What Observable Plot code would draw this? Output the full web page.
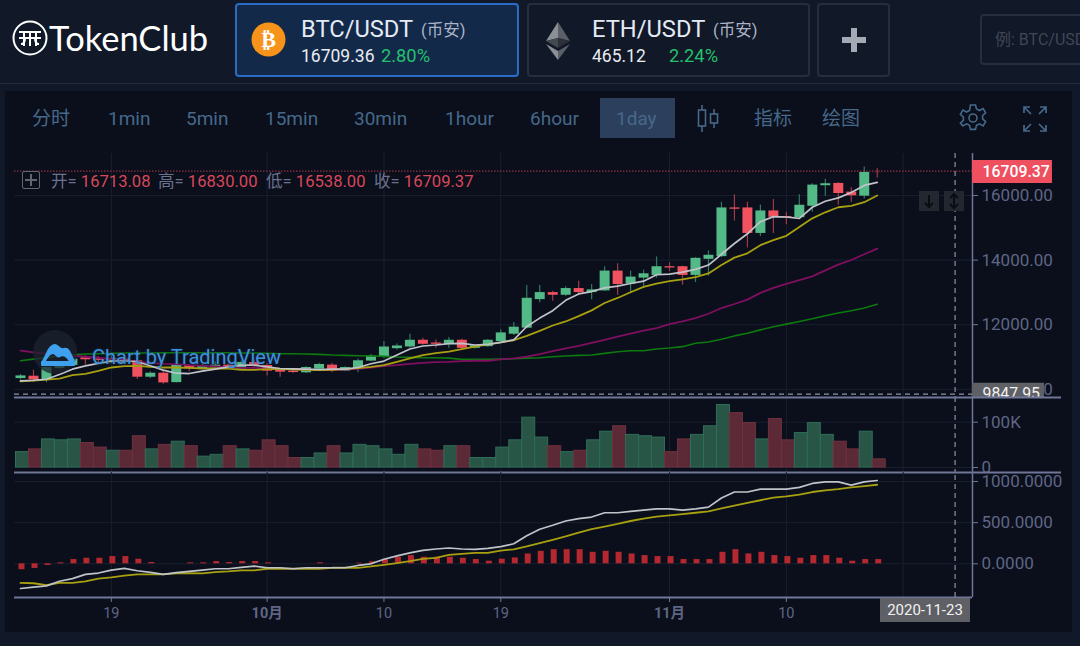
<!DOCTYPE html>
<html lang="zh">
<head>
<meta charset="utf-8">
<script src="https://cdn.jsdelivr.net/npm/d3@7"></script>
<script src="https://cdn.jsdelivr.net/npm/@observablehq/plot@0.6"></script>
<style>
html,body{margin:0;padding:0;width:1080px;height:646px;overflow:hidden;background:#111827;font-family:Roboto,"Noto Sans CJK SC",sans-serif}
.a{position:absolute;white-space:nowrap}
.box{position:absolute;box-sizing:border-box;border-radius:4px}
.tool{position:absolute;top:107px;font-size:19px;line-height:24px;color:#46688a}
.lg{position:absolute;top:172px;font-size:16.6px;line-height:20px;color:#6a7290;white-space:nowrap}
.lg b{font-weight:400;color:#d8475a}
svg.plot{position:absolute;left:0}
</style>
</head>
<body>
<div id="root"></div>
<script>
const firstDay = new Date(Date.UTC(2020, 8, 12));
const opens  = [10332,10405,10290,10644,10738,10977,10956,10873,10935,10883,10374,10498,10207,10738,10634,10665,10748,10623,10831,10738,10592,10561,10509,10623,10748,10561,10634,10873,10987,11258,11310,11518,11434,11393,11518,11268,11320,11476,11705,11892,12776,12994,12911,13119,12994,13046,13660,13265,13442,13525,13795,13795,13525,14024,14107,15615,15615,14825,15522,15345,15314,15667,16302,16374,16104,15979,16713.08];
const closes = [10415,10290,10675,10769,10935,10914,10894,10956,10873,10374,10498,10197,10738,10634,10738,10748,10644,10831,10727,10561,10530,10519,10675,10769,10561,10675,10883,11029,11310,11341,11518,11393,11393,11518,11268,11351,11518,11746,11923,12818,12994,12911,13119,12994,13078,13660,13244,13473,13577,13795,13754,13525,14055,14149,15615,15574,14825,15522,15324,15303,15698,16322,16364,16062,15990,16713,16709.37];
const highs  = [10457,10592,10696,10831,10977,11039,11018,11039,10998,10935,10540,10540,10748,10769,10769,10852,10790,10873,10904,10800,10644,10582,10696,10810,10810,10696,10935,11081,11476,11403,11705,11580,11528,11601,11549,11372,11538,11840,12069,13213,13213,13036,13171,13348,13244,13795,13889,13660,13691,14097,13920,13816,14076,14284,15792,16021,15792,15709,15875,15480,16021,16364,16499,16395,16239,16880,16830];
const lows   = [10290,10207,10207,10623,10717,10748,10810,10790,10810,10301,10332,10155,10197,10540,10613,10644,10602,10602,10665,10415,10374,10488,10488,10582,10509,10540,10509,10852,10956,11216,11268,11372,11268,11268,11216,11247,11299,11424,11663,11871,12682,12724,12880,12911,12776,13036,12911,12963,13140,13442,13639,13223,13306,13504,14076,15210,14378,14731,14825,15095,15293,15480,15979,15698,15792,15896,16538];
const maWhite  = [10259,10280,10311,10457,10623,10727,10800,10873,10883,10852,10727,10592,10498,10488,10561,10623,10696,10748,10748,10696,10644,10634,10623,10613,10623,10623,10675,10790,10873,11060,11247,11341,11372,11414,11424,11372,11393,11455,11528,11944,12204,12433,12755,12953,13026,13140,13192,13275,13348,13546,13566,13629,13712,13847,14180,14513,14814,15189,15345,15334,15293,15636,15823,15927,16094,16312,16406];
const maYellow = [10249,10270,10301,10332,10436,10478,10571,10675,10717,10727,10696,10675,10675,10665,10644,10644,10644,10602,10602,10623,10634,10613,10602,10592,10602,10623,10654,10696,10748,10852,10956,11060,11122,11164,11247,11320,11393,11455,11518,11653,11809,11975,12100,12266,12443,12672,12828,13005,13171,13275,13348,13400,13473,13587,13847,14076,14211,14461,14617,14752,15022,15293,15480,15636,15678,15792,16000];
const maPurple = [11195,11143,11102,11070,11039,11008,10977,10935,10894,10852,10821,10790,10779,10748,10727,10706,10686,10665,10665,10644,10634,10623,10613,10602,10602,10613,10634,10675,10717,10748,10790,10821,10842,10852,10873,10883,10883,10925,10956,11008,11091,11185,11268,11341,11434,11528,11632,11726,11819,11892,12017,12100,12204,12339,12516,12641,12776,12984,13140,13265,13379,13494,13681,13858,14003,14180,14357];
const maGreen  = [10883,10935,10977,11039,11070,11091,11102,11112,11122,11122,11122,11133,11133,11133,11133,11133,11133,11122,11122,11112,11102,11102,11091,11081,11060,11050,11039,11029,11018,10998,10987,10977,10977,10966,10925,10925,10925,10935,10946,10966,10977,11008,11029,11050,11060,11112,11164,11195,11195,11247,11278,11320,11424,11466,11549,11653,11736,11840,11934,12017,12100,12183,12277,12360,12433,12516,12630];
const volumes  = [34,40,62,60,62,54,44,37,37,69,40,50,57,47,24,28,47,40,37,60,47,21,21,31,47,31,50,47,40,28,50,40,37,47,47,21,21,44,60,110,66,47,34,37,60,79,91,72,69,66,34,62,72,91,138,120,98,62,107,60,76,98,72,57,40,79,18];
const macdLine   = [-300,-284,-268,-212,-180,-128,-112,-76,-56,-84,-104,-128,-108,-92,-76,-60,-60,-44,-28,-48,-48,-60,-48,-48,-48,-48,-20,0,56,96,132,164,180,192,180,176,188,208,244,340,420,468,520,548,568,620,620,636,652,668,668,652,668,688,800,872,872,908,908,908,928,976,996,996,956,996,1012];
const macdSignal = [-232,-236,-260,-232,-232,-212,-180,-164,-144,-128,-128,-128,-116,-112,-116,-100,-92,-80,-80,-60,-60,-60,-60,-60,-48,-48,-48,-32,-12,8,32,60,72,108,120,132,132,160,176,212,252,292,332,380,420,452,484,520,548,572,588,604,620,636,672,708,740,772,804,820,840,872,892,908,928,944,960];
const macdHist   = [-72,-56,-20,12,52,68,68,88,88,56,16,0,0,12,12,28,16,28,28,12,0,0,0,12,0,0,8,24,56,80,100,80,80,80,68,52,32,56,72,120,152,172,172,172,140,152,140,120,100,88,88,52,52,52,140,172,120,140,100,88,68,100,100,68,32,52,52];
const priceTicks = [10000,12000,14000,16000];
const volumeTicks = [0,100];
const macdTicks = [0,500,1000];
const dayTicks = ["2020-09-19","2020-10-10","2020-10-19","2020-11-10"];
const gridOnlyTicks = ["2020-11-19"];
const monthTicks = ["2020-10-01","2020-11-01"];
const monthLabels = ["10月","11月"];
const lastPrice = 16709.37;
const crossPrice = 9847.95;
const crossDate = new Date(Date.UTC(2020, 10, 23));

const rows = opens.map((o,i)=>{
  const day = d3.utcDay.offset(firstDay,i);
  return {date:day, x1:d3.utcHour.offset(day,-12), x2:d3.utcHour.offset(day,12),
    open:o, close:closes[i], high:highs[i], low:lows[i], up:closes[i]>=o,
    ma1:maWhite[i], ma2:maYellow[i], ma3:maPurple[i], ma4:maGreen[i],
    vol:volumes[i], macd:macdLine[i], sig:macdSignal[i], hist:macdHist[i]};
});
const parse = s=>new Date(s+"T00:00:00Z");
const dayDates = dayTicks.map(parse), monthDates = monthTicks.map(parse);
const allTicks = [...dayDates,...monthDates,...gridOnlyTicks.map(parse)];
const xDomain = [new Date(+firstDay-0.462*864e5), new Date(+firstDay+73.34*864e5)];
const xEnd = xDomain[1];
const xAfter = n=>new Date(+xEnd+n*864e5);

const UP="#53b987", DOWN="#f0525f", GRID="#191f2e", AXIS="#6f7697", TXT="#5f6685";
const FONT='Roboto,"Noto Sans CJK SC",sans-serif';
const common = {width:1080, marginLeft:14, marginRight:108, marginTop:0,
  x:{type:"utc",domain:xDomain,axis:null}, style:{background:"transparent",fontFamily:FONT}};
const place = (svg,top,clip)=>{svg.classList.add("plot");svg.style.position="absolute";svg.style.left="0";svg.style.top=top+"px";svg.style.maxWidth="none";svg.style.overflow=clip?"hidden":"visible";return svg;};
const yAxis = (ticks,fmt)=>Plot.axisY({anchor:"right",ticks,tickFormat:fmt,tickSize:5,tickPadding:4,stroke:AXIS,fill:TXT,fontSize:17,label:null});
const frameRight = ()=>Plot.ruleX([xEnd],{stroke:AXIS,strokeWidth:1.5});
const cross = ()=>Plot.ruleX([crossDate],{stroke:"#8a90a8",strokeWidth:1.2,strokeDasharray:"5,4"});

const price = Plot.plot({...common,height:244,marginBottom:0,
  y:{domain:[9746,17300]},
  marks:[
    Plot.gridY(priceTicks,{stroke:GRID,strokeOpacity:1}),
    Plot.gridX(allTicks,{stroke:GRID,strokeOpacity:1}),
    yAxis(priceTicks,d=>d3.format(".2f")(d)),
    frameRight(),
    Plot.ruleX(rows,{x:"date",y1:"low",y2:"high",stroke:d=>d.up?"#2f7a60":"#a03a4a",strokeWidth:1.2}),
    Plot.ruleX(rows,{x:"date",y1:"open",y2:"close",stroke:d=>d.up?UP:DOWN,strokeWidth:10}),
    Plot.lineY(rows,{x:"date",y:"ma4",stroke:"#0d7a0f",strokeWidth:1.6}),
    Plot.lineY(rows,{x:"date",y:"ma3",stroke:"#7f0f60",strokeWidth:1.8}),
    Plot.lineY(rows,{x:"date",y:"ma2",stroke:"#a8a010",strokeWidth:1.8}),
    Plot.lineY(rows,{x:"date",y:"ma1",stroke:"#c0c3c9",strokeWidth:1.7}),
    Plot.ruleY([lastPrice],{stroke:"#b23a4c",strokeWidth:1,strokeDasharray:"1.5,1.5",dy:-1.5}),
    Plot.ruleY([crossPrice],{stroke:"#8a90a8",strokeWidth:1.2,strokeDasharray:"5,4"}),
    cross(),
    Plot.ruleY([lastPrice],{x1:xEnd,x2:xAfter(6.16),stroke:"#ef5060",strokeWidth:23,dy:-1}),
    Plot.text([lastPrice],{x:()=>xEnd,y:d=>d,dx:10,dy:-1,textAnchor:"start",text:d=>d3.format(".2f")(d),fill:"#fff",fontSize:15.8,fontWeight:500}),
    Plot.ruleY([crossPrice],{x1:xEnd,x2:xAfter(5.55),stroke:"#5f6065",strokeWidth:23}),
    Plot.text([crossPrice],{x:()=>xEnd,y:d=>d,dx:10,textAnchor:"start",text:d=>d3.format(".2f")(d),fill:"#f2f2f2",fontSize:15.8})
  ]});

const vol = Plot.plot({...common,height:75,marginBottom:0,
  y:{domain:[-11,154.5]},
  marks:[
    Plot.gridY(volumeTicks,{stroke:GRID,strokeOpacity:1}),
    Plot.gridX(allTicks,{stroke:GRID,strokeOpacity:1}),
    yAxis(volumeTicks,d=>d===0?"0":d+"K"),
    frameRight(),
    Plot.rectY(rows,{x1:"x1",x2:"x2",y1:0,y2:"vol",dx:2,fill:d=>d.up?"#285546":"#5c2a36",stroke:d=>d.up?"#2f6e58":"#70303f",strokeWidth:1}),
    cross(),
    Plot.ruleY([154.5],{x1:xDomain[0],x2:xAfter(6.86),stroke:AXIS,strokeWidth:2}),
    Plot.ruleY([-11],{x1:xDomain[0],x2:xAfter(6.86),stroke:AXIS,strokeWidth:2})
  ]});

const macd = Plot.plot({...common,height:158,marginBottom:33,
  y:{domain:[-409,1109]},
  marks:[
    Plot.gridY(macdTicks,{stroke:GRID,strokeOpacity:1}),
    Plot.gridX(allTicks,{stroke:GRID,strokeOpacity:1}),
    yAxis(macdTicks,d=>d3.format(".4f")(d)),
    Plot.axisX(dayDates,{anchor:"bottom",tickFormat:d=>d.getUTCDate(),tickSize:5,tickPadding:5,stroke:AXIS,fill:TXT,fontSize:14.5,label:null}),
    Plot.axisX(monthDates,{anchor:"bottom",tickFormat:(d,i)=>monthLabels[i],tickSize:5,tickPadding:5,stroke:AXIS,fill:TXT,fontSize:14.5,fontWeight:"bold",label:null}),
    Plot.ruleY([-409],{stroke:AXIS,strokeWidth:2}),
    frameRight(),
    Plot.ruleX(rows,{x:"date",y1:0,y2:"hist",dx:1,stroke:"#b5282f",strokeWidth:6}),
    Plot.lineY(rows,{x:"date",y:"sig",stroke:"#a8a010",strokeWidth:1.8}),
    Plot.lineY(rows,{x:"date",y:"macd",stroke:"#c0c3c9",strokeWidth:1.7}),
    Plot.ruleX([crossDate],{y1:-409,y2:1109,stroke:"#8a90a8",strokeWidth:1.2,strokeDasharray:"5,4"})
  ]});

const root=document.getElementById("root");
root.innerHTML = `
<div class="a" style="left:0;top:83px;width:1080px;height:1px;background:#252c3c"></div>
<div class="a" style="left:5px;top:91px;width:1067px;height:541px;background:#0a0f1b"></div>

<svg class="a" style="left:12px;top:20px" width="36" height="36" viewBox="0 0 36 36" fill="none" stroke="#fff" stroke-width="2">
 <circle cx="18" cy="18" r="16.5"/><path d="M7 12H29M7 18H29M12 12V26M24 12V26M18 12V26M9 24C12 24 13 21 13 18M27 24C24 24 23 21 23 18"/></svg>
<div class="a" style="left:49px;top:18px;font-size:34.5px;line-height:40px;color:#fff;font-family:Lato,Roboto,sans-serif">TokenClub</div>

<div class="box" style="left:235px;top:3px;width:284px;height:74px;background:#13294a;border:2px solid #2a6cc4"></div>
<svg class="a" style="left:251px;top:22px" width="35" height="35" viewBox="0 0 35 35"><circle cx="17.5" cy="17.5" r="17" fill="#f7931a"/>
 <text x="17.5" y="25" text-anchor="middle" font-size="22" font-weight="bold" fill="#fff" font-family="DejaVu Sans">₿</text></svg>
<div class="a" style="left:301px;top:14px;font-size:23.7px;line-height:30px;color:#e4ebf5">BTC/USDT</div>
<div class="a" style="left:421px;top:20px;font-size:16.5px;line-height:22px;color:#aab4c6">(币安)</div>
<div class="a" style="left:301px;top:45px;font-size:17.5px;line-height:22px;color:#e8ecf2">16709.36</div>
<div class="a" style="left:381px;top:45px;font-size:18.3px;line-height:22px;color:#25c06e">2.80%</div>

<div class="box" style="left:527px;top:3px;width:283px;height:74px;border:2px solid #262d3d"></div>
<svg class="a" style="left:546px;top:22px" width="24" height="38" viewBox="0 0 24 38"><path d="M12 0L24 19L12 16Z" fill="#5a5f68"/><path d="M12 0L0 19L12 16Z" fill="#8b8f96"/><path d="M12 16L24 19L12 26Z" fill="#2c3038"/><path d="M12 16L0 19L12 26Z" fill="#44484f"/><path d="M12 29L24 22L12 38Z" fill="#5a5f68"/><path d="M12 29L0 22L12 38Z" fill="#8b8f96"/></svg>
<div class="a" style="left:592px;top:14px;font-size:23.7px;line-height:30px;color:#e4ebf5">ETH/USDT</div>
<div class="a" style="left:713px;top:20px;font-size:16.5px;line-height:22px;color:#aab4c6">(币安)</div>
<div class="a" style="left:592px;top:45px;font-size:17.5px;line-height:22px;color:#e8ecf2">465.12</div>
<div class="a" style="left:669px;top:45px;font-size:18.3px;line-height:22px;color:#25c06e">2.24%</div>

<div class="box" style="left:817px;top:3px;width:73px;height:74px;border:2px solid #262d3d"></div>
<svg class="a" style="left:842px;top:28px" width="24" height="24"><path d="M9 0h6v9h9v6h-9v9H9v-9H0V9h9z" fill="#a5a9b4"/></svg>
<div class="box" style="left:980px;top:14px;width:120px;height:51px;border:2px solid #262d3d"></div>
<div class="a" style="left:995px;top:29px;font-size:16px;line-height:22px;color:#3f4758">例: BTC/USDT</div>

<div class="a" style="left:600px;top:98px;width:75px;height:40px;background:#2c405e"></div>
<div class="tool" style="left:32px">分时</div><div class="tool" style="left:108px">1min</div><div class="tool" style="left:186px">5min</div>
<div class="tool" style="left:265px">15min</div><div class="tool" style="left:354px">30min</div><div class="tool" style="left:445px">1hour</div>
<div class="tool" style="left:530px">6hour</div><div class="tool" style="left:616px">1day</div>
<div class="tool" style="left:754px">指标</div><div class="tool" style="left:822px">绘图</div>
<svg class="a" style="left:696px;top:104px" width="24" height="30" fill="none" stroke="#46688a" stroke-width="1.6"><path d="M6 1V28M18 5V24"/><rect x="2.5" y="6" width="7" height="16" fill="#0a0f1b"/><rect x="14.5" y="10" width="7" height="9" fill="#0a0f1b"/></svg>
<svg class="a" style="left:958px;top:103px" width="30" height="30" viewBox="0 0 30 30" fill="none" stroke="#46688a" stroke-width="1.6"><circle cx="15" cy="15" r="4"/><path d="M12.5 2h5l1 4 3 1.5 3.6-2 2.5 4.3-3 2.7v3.4l3 2.7-2.5 4.3-3.6-2-3 1.5-1 4h-5l-1-4-3-1.5-3.6 2L2.4 20.1l3-2.7V14l-3-2.7 2.5-4.3 3.6 2 3-1.5z"/></svg>
<svg class="a" style="left:1022px;top:105px" width="26" height="28" fill="none" stroke="#46688a" stroke-width="1.7"><path d="M2 8V2h6M2 2l7 7M24 8V2h-6M24 2l-7 7M2 20v6h6M2 26l7-7M24 20v6h-6M24 26l-7-7"/></svg>
`;
root.append(place(price,153,true),place(vol,397,false),place(macd,472,false));
const overlay=document.createElement("div");
overlay.innerHTML=`
<div class="a" style="left:22px;top:171px;width:18px;height:18px;box-sizing:border-box;border:1.5px solid #62666f;border-radius:2px"></div>
<div class="a" style="left:30.2px;top:174px;width:1.5px;height:12px;background:#62666f"></div>
<div class="a" style="left:25px;top:179.3px;width:12px;height:1.5px;background:#62666f"></div>
<div class="lg" style="left:51px">开= <b>16713.08</b></div><div class="lg" style="left:158px">高= <b>16830.00</b></div>
<div class="lg" style="left:266px">低= <b>16538.00</b></div><div class="lg" style="left:374px">收= <b>16709.37</b></div>
<div class="a" style="left:919px;top:191px;width:20px;height:20px;background:#23272f"></div><div class="a" style="left:944px;top:191px;width:20px;height:20px;background:#23272f"></div>
<svg class="a" style="left:919px;top:191px" width="45" height="20" fill="none" stroke="#0a0d13" stroke-width="2"><path d="M10 4V16M6 12l4 4 4-4M35 3V17M31 7l4-4 4 4M31 13l4 4 4-4"/></svg>
<svg class="a" style="left:33px;top:330px" width="46" height="46"><circle cx="22" cy="22" r="22" fill="#1e2330" opacity=".75"/><path d="M9 31L14 21C16 17 19 14 22 14C25 14 27 19 31 18C35 17 37 20 40 27L42 31H36C33 27 30 25 27 27C24 29 22 24 20 24C17 24 14 29 13 31Z" fill="#3ea0ee"/><rect x="8" y="31" width="34" height="5" rx="1" fill="#3ea0ee"/></svg>
<div class="a" style="left:92px;top:345px;font-size:20px;line-height:24px;color:#3a93de;text-shadow:0 0 3px #2a3550">Chart by TradingView</div>
<div class="a" style="left:880px;top:598px;width:90px;height:24px;background:#5f6065;color:#f2f2f2;font-size:15px;line-height:25px;text-align:center">2020-11-23</div>
`;
root.append(overlay);
</script>
</body>
</html>
